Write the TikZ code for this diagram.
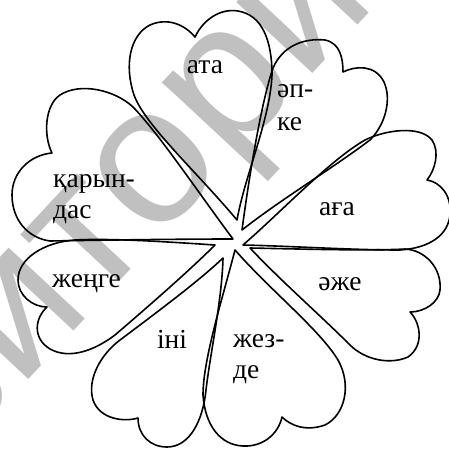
\documentclass[tikz,border=0pt]{standalone}
\usepackage{fontspec}
\setmainfont{Liberation Serif}
\newfontfamily\lblfont{Liberation Serif}
\newfontfamily\wmfont{Liberation Sans}
\definecolor{wmgray}{HTML}{C0C0C0}
\begin{document}
\begin{tikzpicture}[x=1pt,y=-1pt,
  petal/.style={draw=black,line width=1.6pt,line join=round},
  lbl/.style={inner sep=0pt,font=\lblfont\fontsize{27.5}{30}\selectfont},
  wm/.style={inner sep=0pt,text=wmgray,font=\wmfont\fontsize{197}{200}\selectfont,rotate=47}]
\useasboundingbox (0,0) rectangle (449,450);
% watermark
\begin{scope}
\clip (0,0) rectangle (449,450);
\node[wm,anchor=base east] (wmA) at (229,164) {репозито};
\node[wm,anchor=base west] (wmB) at (229,164) {рий};
\end{scope}
% ата
\draw[petal] (237,220) .. controls (195,170) and (145,125) .. (134,95)
  .. controls (124,65) and (130,35) .. (150,25)
  .. controls (168,17) and (185,25) .. (195,37)
  .. controls (203,20) and (220,8) .. (238,11)
  .. controls (262,15) and (272,40) .. (272,75)
  .. controls (270,120) and (245,175) .. cycle;
% әпке
\draw[petal] (242,230) .. controls (250,170) and (262,100) .. (273,68)
  .. controls (283,45) and (305,38) .. (325,40)
  .. controls (340,43) and (343,58) .. (343,72)
  .. controls (355,66) and (375,64) .. (384,82)
  .. controls (392,100) and (385,125) .. (370,140)
  .. controls (330,170) and (280,200) .. cycle;
% аға
\draw[petal] (243,245) .. controls (280,213) and (330,160) .. (365,140)
  .. controls (385,130) and (420,125) .. (432,140)
  .. controls (440,152) and (435,170) .. (427,180)
  .. controls (440,182) and (452,195) .. (450,215)
  .. controls (448,235) and (430,248) .. (400,250)
  .. controls (350,250) and (290,246) .. cycle;
% әже
\draw[petal] (250,248) .. controls (300,249) and (370,251) .. (405,249)
  .. controls (425,250) and (442,268) .. (440,290)
  .. controls (439,302) and (425,312) .. (410,312)
  .. controls (420,322) and (425,345) .. (408,357)
  .. controls (390,365) and (365,360) .. (350,345)
  .. controls (320,315) and (280,280) .. cycle;
% жезде
\draw[petal] (235,250) .. controls (270,290) and (320,330) .. (338,360)
  .. controls (352,385) and (345,415) .. (325,425)
  .. controls (305,432) and (290,425) .. (282,417)
  .. controls (278,435) and (262,447) .. (243,446)
  .. controls (220,445) and (205,425) .. (203,395)
  .. controls (203,360) and (222,300) .. cycle;
% іні
\draw[petal] (223,258) .. controls (222,300) and (210,355) .. (206,390)
  .. controls (203,420) and (190,447) .. (167,447)
  .. controls (150,447) and (138,435) .. (138,418)
  .. controls (125,422) and (100,420) .. (93,400)
  .. controls (87,380) and (100,355) .. (120,340)
  .. controls (160,310) and (200,280) .. cycle;
% жеңге
\draw[petal] (215,245) .. controls (170,242) and (110,238) .. (75,240)
  .. controls (45,242) and (18,258) .. (18,280)
  .. controls (18,295) and (32,307) .. (47,307)
  .. controls (35,318) and (32,338) .. (50,349)
  .. controls (70,360) and (95,350) .. (115,335)
  .. controls (150,305) and (190,270) .. cycle;
% қарындас
\draw[petal] (233,239) .. controls (200,195) and (160,135) .. (133,107)
  .. controls (115,90) and (80,82) .. (60,95)
  .. controls (45,105) and (43,135) .. (52,153)
  .. controls (30,155) and (12,172) .. (12,195)
  .. controls (12,220) and (28,238) .. (50,241)
  .. controls (110,240) and (180,239) .. cycle;
% labels
\node[lbl,anchor=base] (ata) at (205,73) {ата};
\node[lbl,anchor=base west] (apke1) at (277,97) {әп-};
\node[lbl,anchor=base west] (apke2) at (277,130) {ке};
\node[lbl,anchor=base] (aga) at (337,215) {аға};
\node[lbl,anchor=base] (azhe) at (340,290) {әже};
\node[lbl,anchor=base west] (zhezde1) at (233,347) {жез-};
\node[lbl,anchor=base west] (zhezde2) at (233,378) {де};
\node[lbl,anchor=base] (ini) at (172,348) {іні};
\node[lbl,anchor=base west] (zhenge) at (52,287) {жеңге};
\node[lbl,anchor=base west] (karyn1) at (53,187) {қарын-};
\node[lbl,anchor=base west] (karyn2) at (53,218) {дас};
\end{tikzpicture}
\end{document}
